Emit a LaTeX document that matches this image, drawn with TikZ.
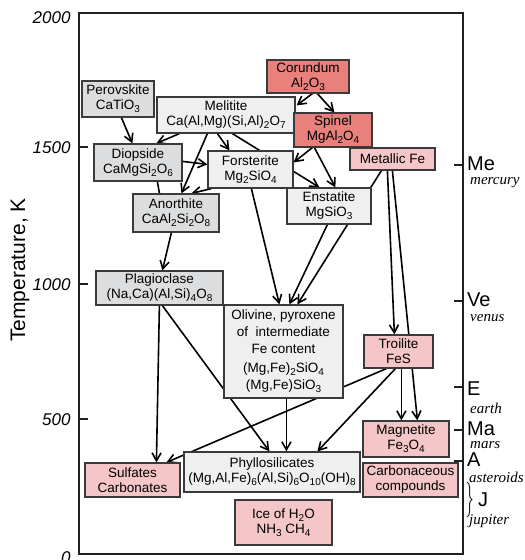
\documentclass[tikz,border=0pt]{standalone}
\usepackage{fontspec}
\setmainfont{Liberation Sans}
\newfontfamily\planetfont{Liberation Serif}
\usetikzlibrary{arrows.meta,calc,decorations.pathreplacing}
\pgfdeclarelayer{bg}
\pgfsetlayers{bg,main}
\newcommand{\sbs}[1]{\raisebox{-0.45ex}{\fontsize{10}{10}\selectfont #1}}
\definecolor{redbox}{HTML}{E8807C}
\definecolor{pinkbox}{HTML}{F4C6C8}
\definecolor{graybox}{HTML}{DCDDDF}
\definecolor{lightbox}{HTML}{EFEFEF}
\definecolor{edgecol}{HTML}{3A3A3A}
\definecolor{framecol}{HTML}{231F20}
\tikzset{
  box/.style={draw=edgecol, line width=1.2pt, inner sep=0pt, align=center,
    font=\fontsize{13.5}{15}\selectfont, anchor=center},
  gbox/.style={box, fill=graybox},
  lbox/.style={box, fill=lightbox},
  rbox/.style={box, fill=redbox},
  pbox/.style={box, fill=pinkbox},
  arr/.style={draw=black, line width=1.6pt, -{Straight Barb[length=8pt,width=9pt]}},
  plain/.style={draw=black, line width=1.6pt},
  ticklab/.style={font=\fontsize{17}{17}\selectfont\itshape, anchor=east},
  planet/.style={font=\fontsize{20}{20}\selectfont, anchor=west, inner sep=0pt},
  planetname/.style={font=\planetfont\fontsize{15}{15}\selectfont\itshape, anchor=west, inner sep=0pt},
}
\begin{document}
\begin{tikzpicture}[x=1pt,y=-1pt]
\useasboundingbox (0,0) rectangle (525,560);
% frame
\draw[framecol, line width=2pt] (79,13) rectangle (463,554);
\foreach \yy in {147,284,419} \draw[framecol, line width=2pt] (79,\yy) -- (88,\yy);
\foreach \yy in {165,301,387,430,461} \draw[framecol, line width=2pt] (454,\yy) -- (463,\yy);
% axis labels
\node[ticklab] (t2000) at (74,18) {2000};
\node[ticklab] (t1500) at (74,148) {1500};
\node[ticklab] (t1000) at (74,285) {1000};
\node[ticklab] (t500) at (74,420) {500};
\node[ticklab] (t0) at (74,558) {0};
\node[rotate=90, font=\fontsize{21}{21}\selectfont] (ylab) at (20,270) {Temperature, K};
% planets
\node[planet] (me) at (467,164) {Me};
\node[planetname] (mer) at (470,183) {mercury};
\node[planet] (ve) at (467,300) {Ve};
\node[planetname] (ven) at (470,318) {venus};
\node[planet] (ea) at (467,389) {E};
\node[planetname] (ear) at (470,408) {earth};
\node[planet] (ma) at (467,429) {Ma};
\node[planetname] (mar) at (470,445) {mars};
\node[planet] (as) at (467,460) {A};
\node[planetname] (ast) at (469,477) {asteroids};
\node[planet] (ju) at (478,500) {J};
\node[planetname] (jup) at (469,521) {jupiter};
\draw[framecol, line width=1pt, decorate, decoration={brace, amplitude=5pt}] (467,482) -- (467,517);
% boxes
\node[gbox, minimum width=72, minimum height=36] (per) at (118,99) {Perovskite\\CaTiO\sbs{3}};
\node[lbox, minimum width=138, minimum height=36] (mel) at (226,115) {Melitite\\Ca(Al,Mg)(Si,Al)\sbs{2}O\sbs{7}};
\node[rbox, minimum width=82, minimum height=33] (cor) at (308,76.5) {Corundum\\Al\sbs{2}O\sbs{3}};
\node[rbox, minimum width=78, minimum height=34] (spi) at (333,130) {Spinel\\MgAl\sbs{2}O\sbs{4}};
\node[pbox, minimum width=85, minimum height=22] (fe) at (392.5,159) {Metallic Fe};
\node[gbox, minimum width=88, minimum height=37] (dio) at (138,162.5) {Diopside\\CaMgSi\sbs{2}O\sbs{6}};
\node[lbox, minimum width=85, minimum height=37] (for) at (250.5,169.5) {Forsterite\\Mg\sbs{2}SiO\sbs{4}};
\node[lbox, minimum width=84, minimum height=36] (ens) at (329,206) {Enstatite\\MgSiO\sbs{3}};
\node[gbox, minimum width=86, minimum height=38] (ano) at (176,213) {Anorthite\\CaAl\sbs{2}Si\sbs{2}O\sbs{8}};
\node[gbox, minimum width=127, minimum height=34] (pla) at (159.5,288) {Plagioclase\\(Na,Ca)(Al,Si)\sbs{4}O\sbs{8}};
\node[lbox, minimum width=119, minimum height=93, font=\fontsize{13.5}{17}\selectfont] (oli) at (283.5,351.5)
  {Olivine, pyroxene\\of~~intermediate\\Fe content\\[2pt](Mg,Fe)\sbs{2}SiO\sbs{4}\\(Mg,Fe)SiO\sbs{3}};
\node[pbox, minimum width=69, minimum height=33] (tro) at (398.5,351.5) {Troilite\\FeS};
\node[pbox, minimum width=86, minimum height=36] (mag) at (406,439) {Magnetite\\Fe\sbs{3}O\sbs{4}};
\node[pbox, minimum width=95, minimum height=34] (car) at (410.5,480) {Carbonaceous\\compounds};
\node[lbox, minimum width=176, minimum height=40] (phy) at (272,472) {Phyllosilicates\\(Mg,Al,Fe)\sbs{6}(Al,Si)\sbs{6}O\sbs{10}(OH)\sbs{8}};
\node[pbox, minimum width=95, minimum height=34] (sul) at (132.5,480) {Sulfates\\Carbonates};
\node[pbox, minimum width=97, minimum height=45] (ice) at (283.5,522.5) {Ice of H\sbs{2}O\\NH\sbs{3} CH\sbs{4}};
% connectors
\begin{pgfonlayer}{bg}
\draw[arr] ($(per.south west)+(40,0)$) -- ($(dio.north west)+(39,0)$);
\draw[arr] ($(mel.south west)+(23,0)$) -- ($(dio.north west)+(63,0)$);
\draw[arr] ($(mel.south west)+(61,0)$) -- ($(for.north west)+(22,0)$);
\draw[arr] ($(mel.south west)+(76,0)$) -- ($(ens.north west)+(33,0)$);
\draw[arr] ($(mel.south west)+(51,0)$) -- ($(ano.north west)+(49,0)$);
\draw[arr] ($(cor.south west)+(46,0)$) -- ($(mel.north east)+(1,9)$);
\draw[arr] ($(cor.south west)+(51,0)$) -- ($(spi.north west)+(41,0)$);
\draw[arr] ($(spi.south west)+(19,0)$) -- ($(for.north east)+(0,12)$);
\draw[arr] ($(spi.south west)+(21,0)$) -- ($(ens.north west)+(49,0)$);
\draw[arr] ($(dio.north east)+(0,18)$) -- ($(for.north west)+(0,14)$);
\draw[arr] ($(for.south west)+(4,0)$) -- ($(ano.north west)+(59,0)$);
\draw[plain] ($(dio.south west)+(64,0)$) -- ($(ano.north west)+(27,0)$);
\draw[arr] ($(ano.south west)+(39,0)$) -- ($(pla.north west)+(67,0)$);
\draw[arr] ($(for.south west)+(44,0)$) -- ($(oli.north west)+(56,0)$);
\draw[arr] ($(ens.south west)+(41,0)$) -- ($(oli.north west)+(66,0)$);
\draw[arr] ($(fe.south west)+(32,0)$) -- ($(oli.north west)+(74,0)$);
\draw[arr] ($(fe.south west)+(38,0)$) -- ($(tro.north west)+(31,0)$);
\draw[arr] ($(fe.south west)+(43,0)$) -- ($(mag.north west)+(55,0)$);
\draw[arr] ($(tro.south west)+(38,0)$) -- ($(mag.north west)+(39,0)$);
\draw[arr] ($(tro.south west)+(32,0)$) -- ($(phy.north west)+(134,0)$);
\draw[arr] ($(tro.south west)+(23,0)$) -- ($(sul.north west)+(82,0)$);
\draw[arr] ($(oli.south west)+(63,0)$) -- ($(phy.north west)+(103,0)$);
\draw[arr] ($(pla.south west)+(64,0)$) -- ($(sul.north west)+(72,0)$);
\draw[arr] ($(pla.south west)+(67,0)$) -- ($(phy.north west)+(86,0)$);
\end{pgfonlayer}
\end{tikzpicture}
\end{document}
